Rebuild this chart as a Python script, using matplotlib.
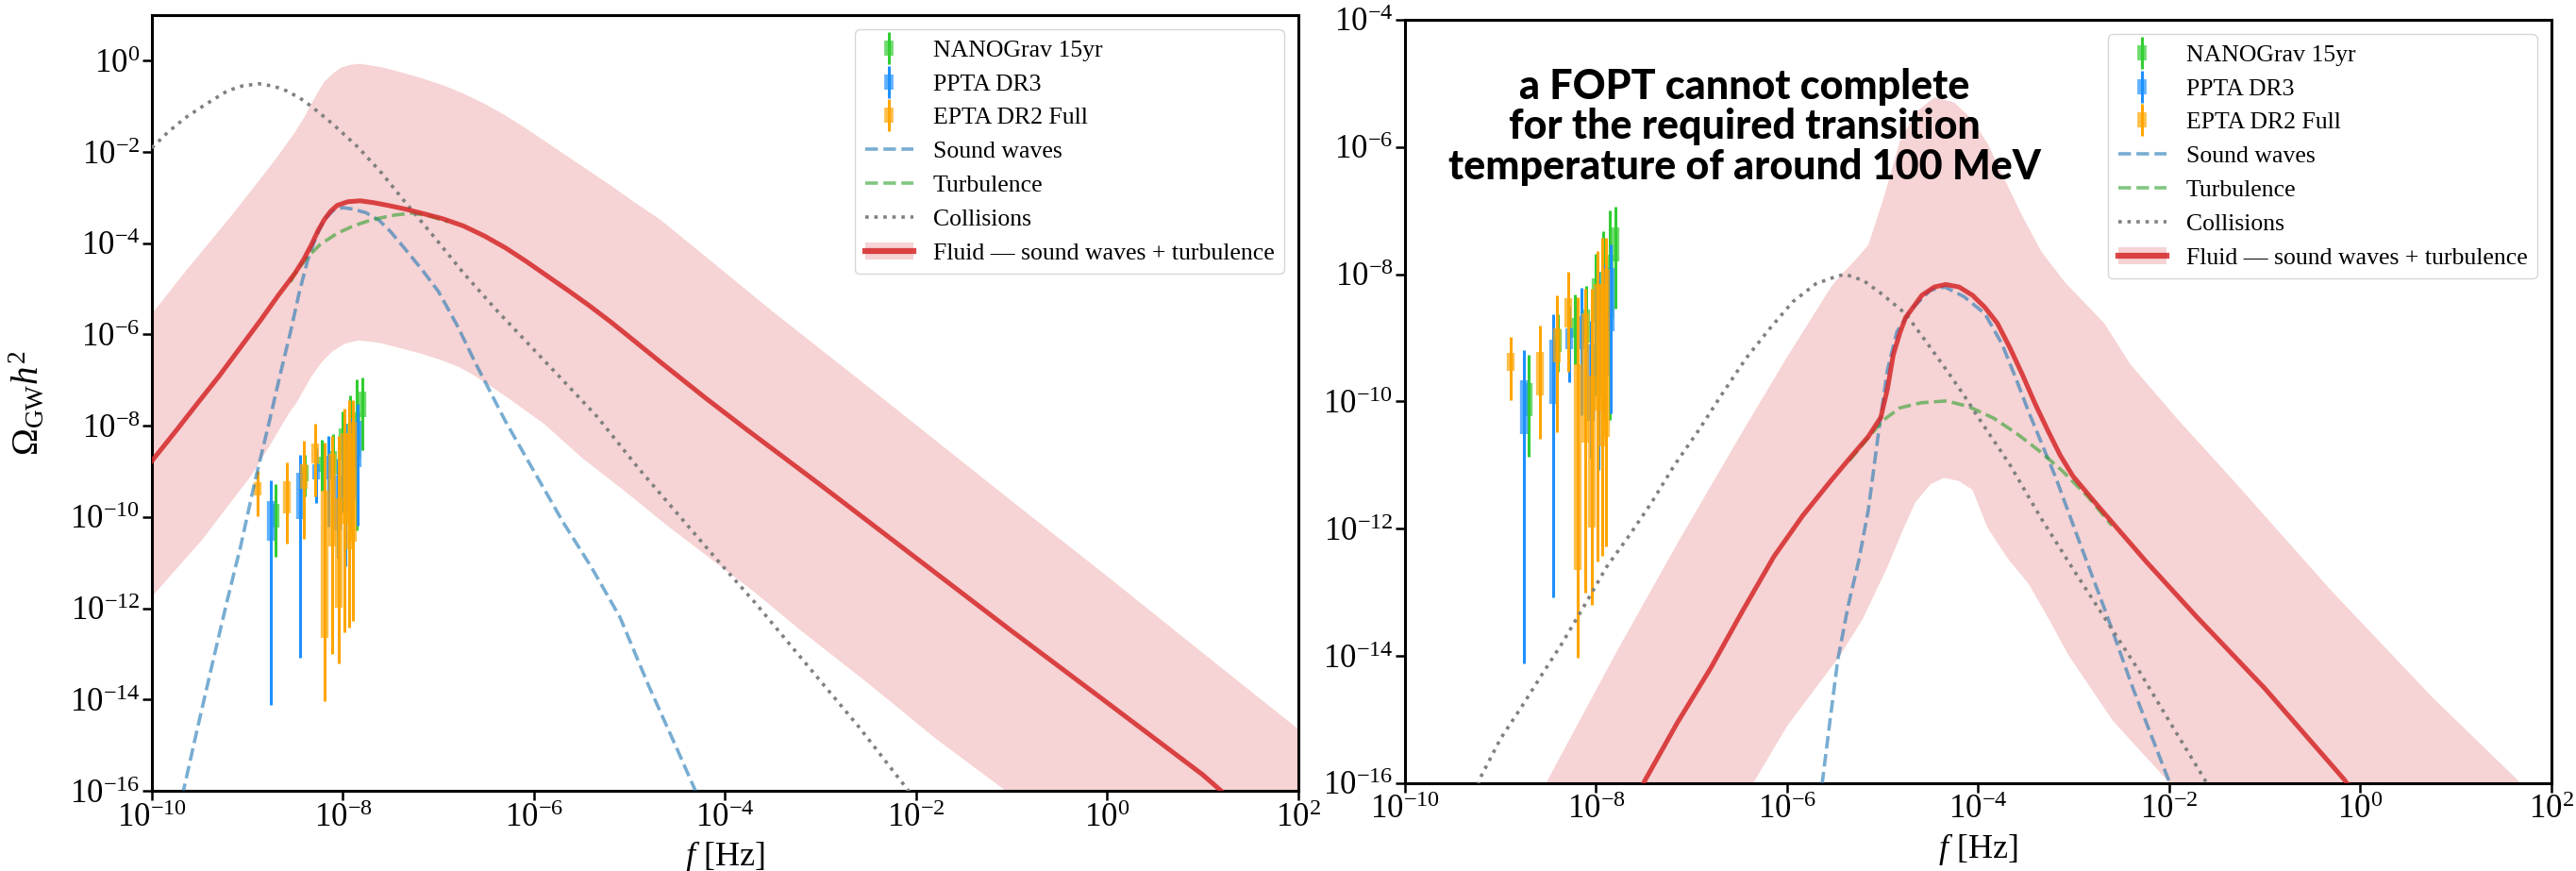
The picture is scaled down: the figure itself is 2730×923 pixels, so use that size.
import numpy as np
import matplotlib.pyplot as plt
from matplotlib.lines import Line2D
from matplotlib.patches import Patch
from matplotlib.ticker import NullLocator, FuncFormatter

plt.rcParams['font.family'] = 'serif'
plt.rcParams['font.serif'] = ['Liberation Serif', 'DejaVu Serif']
plt.rcParams['mathtext.fontset'] = 'custom'
plt.rcParams['mathtext.rm'] = 'Liberation Serif'
plt.rcParams['mathtext.it'] = 'Liberation Serif:italic'
plt.rcParams['mathtext.bf'] = 'Liberation Serif:bold'

# ---- PTA free-spectrum bins: frequency [Hz] and log10(Omega h^2) ranges ----
# lo2/hi2 = outer (thin) range, lo1/hi1 = inner (thick) range
ng_f = [1.98e-9, 3.96e-9, 5.94e-9, 7.92e-9, 9.90e-9, 1.19e-8, 1.39e-8, 1.58e-8]
ng_lo2 = [-10.87, -9.54, -9.42, -9.22, -9.90, -10.29, -10.29, -8.54]
ng_lo1 = [-10.23, -9.22, -9.00, -9.07, -8.75, -8.60, -8.70, -7.80]
ng_hi1 = [-9.71, -8.87, -8.68, -8.56, -8.06, -7.96, -7.70, -7.26]
ng_hi2 = [-9.27, -8.63, -8.31, -8.18, -7.68, -7.33, -6.99, -6.94]

pp_f = [1.76e-9, 3.52e-9, 5.28e-9, 7.04e-9, 8.80e-9, 1.06e-8, 1.23e-8, 1.41e-8]
pp_lo2 = [-14.11, -13.08, -9.69, -10.21, -10.90, -11.07, -10.21, -10.19]
pp_lo1 = [-10.51, -10.04, -9.17, -9.17, -10.30, -9.90, -9.60, -8.90]
pp_hi1 = [-9.66, -9.03, -8.85, -8.66, -9.10, -8.20, -8.00, -7.90]
pp_hi2 = [-9.19, -8.63, -8.50, -8.22, -8.73, -7.96, -7.84, -7.53]

ep_f = [1.28e-9, 2.57e-9, 3.85e-9, 5.13e-9, 6.42e-9, 7.70e-9, 8.98e-9, 1.03e-8, 1.15e-8, 1.28e-8]
ep_lo2 = [-9.98, -10.58, -10.48, -9.54, -14.03, -13.00, -13.20, -12.52, -12.42, -12.27]
ep_lo1 = [-9.52, -9.91, -9.39, -8.83, -12.65, -10.64, -11.98, -10.14, -10.70, -10.55]
ep_hi1 = [-9.23, -9.22, -8.85, -8.38, -9.42, -8.61, -9.59, -8.16, -8.16, -7.91]
ep_hi2 = [-8.98, -8.80, -8.33, -7.96, -8.36, -8.23, -8.23, -7.63, -7.43, -7.43]

# ---- left panel spectra: log10 f, log10 Omega h^2 ----
L_col_f = [-10.0, -9.83, -9.65, -9.47, -9.21, -9.05, -8.88, -8.72, -8.59, -8.45, -8.33, -8.1, -7.84,
           -7.6, -7.36, -7.05, -6.74, -6.4, -6.08, -5.7, -5.34, -4.9, -4.49, -4.1, -3.69, -3.2, -2.6, -2.08, -1.9]
L_col_o = [-1.91, -1.56, -1.25, -1.0, -0.66, -0.55, -0.505, -0.56, -0.66, -0.82, -1.0, -1.4, -1.90,
           -2.45, -3.07, -3.85, -4.65, -5.45, -6.16, -7.0, -7.80, -8.95, -9.95, -10.9, -11.87, -13.1, -14.6, -16.0, -16.5]

L_sw_f = [-9.72, -9.67, -9.52, -9.37, -9.22, -9.07, -8.92, -8.77, -8.66, -8.55, -8.46, -8.37, -8.28, -8.195,
          -8.1, -8.0, -7.9, -7.76, -7.62, -7.5, -7.36, -7.18, -7.0, -6.8, -6.61, -6.3, -6.0, -5.7, -5.4,
          -5.1, -4.8, -4.5, -4.3]
L_sw_o = [-16.5, -16.0, -14.6, -13.24, -11.9, -10.63, -9.2, -7.9, -6.9, -5.95, -5.1, -4.37, -3.85, -3.48,
          -3.28, -3.22, -3.25, -3.33, -3.50, -3.75, -4.10, -4.56, -5.06, -5.82, -6.64, -7.9, -9.0, -10.1, -11.1,
          -12.2, -13.7, -15.1, -16.05]

L_tu_f = [-8.55, -8.50, -8.37, -8.24, -8.06, -7.89, -7.75, -7.62, -7.45, -7.27, -7.1, -6.9]
L_tu_o = [-4.85, -4.65, -4.30, -4.03, -3.78, -3.62, -3.52, -3.45, -3.38, -3.34, -3.40, -3.53]

L_fl_f = [-10.0, -9.74, -9.52, -9.30, -9.08, -8.86, -8.68, -8.50, -8.41, -8.33, -8.26, -8.195, -8.13, -8.06,
          -7.95, -7.82, -7.68, -7.53, -7.35, -7.18, -6.96, -6.74, -6.52, -6.30, -6.08, -5.86, -5.64, -5.42,
          -5.2, -4.98, -4.68, -4.2, -3.77, -3.0, -2.0, -1.0, 0.0, 1.0, 1.3]
L_fl_o = [-8.77, -8.09, -7.5, -6.92, -6.3, -5.68, -5.15, -4.65, -4.35, -4.03, -3.72, -3.48, -3.30, -3.17,
          -3.09, -3.07, -3.11, -3.17, -3.25, -3.34, -3.46, -3.62, -3.84, -4.10, -4.40, -4.72, -5.04, -5.37,
          -5.72, -6.09, -6.60, -7.4, -8.09, -9.3, -10.9, -12.5, -14.07, -15.65, -16.2]

L_up_f = [-10.0, -9.7, -9.39, -9.15, -8.94, -8.72, -8.50, -8.40, -8.33, -8.26, -8.195, -8.1, -8.02, -7.92,
          -7.82, -7.6, -7.40, -7.18, -6.96, -6.74, -6.52, -6.3, -6.08, -5.86, -5.64, -5.42, -5.20, -4.95,
          -4.68, -4.2, -3.5, -2.7, -1.90, -1.0, 0.0, 1.0, 2.0]
L_up_o = [-5.55, -4.75, -3.96, -3.35, -2.79, -2.2, -1.56, -1.22, -0.94, -0.68, -0.46, -0.27, -0.15, -0.09,
          -0.066, -0.14, -0.25, -0.38, -0.53, -0.72, -0.94, -1.2, -1.49, -1.8, -2.11, -2.42, -2.73, -3.1,
          -3.48, -4.3, -5.5, -6.82, -8.15, -9.65, -11.3, -12.98, -14.65]
L_lo_f = [-10.0, -9.75, -9.47, -9.22, -8.97, -8.77, -8.57, -8.50, -8.42, -8.33, -8.22, -8.11, -7.98, -7.84,
          -7.62, -7.40, -7.18, -6.96, -6.78, -6.61, -6.3, -5.90, -5.5, -5.04, -4.6, -4.13, -3.69, -3.2, -2.5,
          -1.8, -1.03, -0.5, 2.0]
L_lo_o = [-11.75, -11.15, -10.49, -9.8, -9.12, -8.45, -7.74, -7.54, -7.25, -6.92, -6.6, -6.37, -6.2, -6.13,
          -6.18, -6.30, -6.42, -6.57, -6.72, -6.92, -7.35, -7.95, -8.7, -9.45, -10.2, -10.95, -11.65, -12.5,
          -13.65, -14.85, -16.05, -17.0, -17.0]

# ---- right panel spectra ----
R_col_f = [-9.3, -9.21, -9.0, -8.78, -8.57, -8.36, -8.12, -7.89, -7.65, -7.42, -7.18, -6.93, -6.68, -6.43,
           -6.18, -5.94, -5.7, -5.48, -5.39, -5.2, -5.0, -4.76, -4.55, -4.33, -4.15, -4.0, -3.67, -3.34,
           -3.0, -2.66, -2.31, -1.97, -1.63, -1.5]
R_col_o = [-16.3, -15.91, -15.3, -14.80, -14.3, -13.81, -13.2, -12.6, -12.1, -11.59, -11.0, -10.46, -9.88,
           -9.32, -8.85, -8.43, -8.15, -8.03, -8.0, -8.1, -8.32, -8.62, -9.05, -9.51, -9.9, -10.25, -10.99,
           -11.84, -12.65, -13.44, -14.25, -15.1, -15.94, -16.3]

R_sw_f = [-5.66, -5.63, -5.55, -5.47, -5.36, -5.25, -5.15, -5.04, -4.95, -4.85, -4.7, -4.5, -4.35, -4.15,
          -3.93, -3.75, -3.60, -3.47, -3.19, -2.94, -2.66, -2.38, -2.01, -1.95]
R_sw_o = [-16.3, -15.96, -15.0, -14.06, -13.2, -12.5, -11.7, -10.45, -9.5, -8.9, -8.55, -8.25, -8.2, -8.35,
          -8.62, -9.1, -9.66, -10.17, -11.19, -12.21, -13.33, -14.51, -15.94, -16.2]

R_tu_f = [-5.35, -5.15, -5.0, -4.82, -4.6, -4.33, -4.1, -3.84, -3.6, -3.34, -3.12, -2.85, -2.6]
R_tu_o = [-10.93, -10.57, -10.3, -10.10, -10.02, -9.99, -10.08, -10.26, -10.5, -10.8, -11.09, -11.5, -11.95]

R_fl_f = [-7.6, -7.49, -7.15, -6.80, -6.47, -6.14, -5.84, -5.545, -5.35, -5.15, -5.02, -4.95, -4.89, -4.82,
          -4.76, -4.59, -4.46, -4.34, -4.2, -4.06, -3.93, -3.80, -3.67, -3.54, -3.40, -3.27, -3.14, -3.01,
          -2.77, -2.5, -2.24, -1.71, -1.0, -0.17, -0.05]
R_fl_o = [-16.35, -15.96, -15.05, -14.19, -13.3, -12.44, -11.8, -11.25, -10.9, -10.55, -10.25, -9.8, -9.27,
          -8.92, -8.68, -8.33, -8.2, -8.16, -8.2, -8.33, -8.52, -8.77, -9.15, -9.57, -10.05, -10.46, -10.85,
          -11.17, -11.60, -12.07, -12.52, -13.39, -14.51, -15.94, -16.2]

R_up_f = [-8.6, -8.51, -7.78, -7.13, -6.47, -6.0, -5.545, -5.45, -5.3, -5.15, -4.99, -4.82, -4.65, -4.46,
          -4.25, -4.06, -3.9, -3.74, -3.55, -3.34, -3.09, -2.68, -2.41, -1.9, -1.36, -0.30, 0.76, 1.64, 1.85]
R_up_o = [-16.3, -15.96, -13.92, -12.18, -10.48, -9.3, -8.21, -8.03, -7.8, -7.54, -6.80, -5.91, -5.45, -5.22,
          -5.3, -5.57, -5.95, -6.46, -7.05, -7.64, -8.13, -8.77, -9.41, -10.3, -11.19, -12.98, -14.66, -15.94, -16.3]
R_lo_f = [-6.5, -6.34, -6.0, -5.7, -5.45, -5.21, -4.95, -4.78, -4.66, -4.5, -4.36, -4.2, -4.06, -3.90, -3.7,
          -3.47, -3.25, -3.05, -2.59, -2.03, -1.9]
R_lo_o = [-16.5, -15.96, -15.1, -14.5, -14.0, -13.42, -12.6, -11.99, -11.59, -11.3, -11.2, -11.25, -11.39,
          -11.99, -12.45, -12.87, -13.45, -14.0, -15.02, -15.94, -16.3]

x_ticks = [1e-10, 1e-8, 1e-6, 1e-4, 1e-2, 1e0, 1e2]
L_yticks = [1e0, 1e-2, 1e-4, 1e-6, 1e-8, 1e-10, 1e-12, 1e-14, 1e-16]
R_yticks = [1e-4, 1e-6, 1e-8, 1e-10, 1e-12, 1e-14, 1e-16]

RED = '#d62728'


def pow10(v, pos):
    "tick label as 10^n in the serif font"
    return r'$\mathrm{10^{%d}}$' % int(round(np.log10(v)))


def pta_bins(ax, f, lo2, lo1, hi1, hi2, color):
    "thin line for the outer range, thick translucent bar for the inner one"
    ax.vlines(f, 10**np.array(lo2), 10**np.array(hi2), color=color, lw=2.2, zorder=4)
    ax.vlines(f, 10**np.array(lo1), 10**np.array(hi1), color=color, lw=6, alpha=0.7, zorder=4)


def draw_panel(ax, col, sw, tu, fl, up, lo, ylim, yticks):
    uf, uo = up
    lf, lo_ = lo
    ax.fill(10**np.r_[uf, lf[::-1]], 10**np.r_[uo, lo_[::-1]], color=RED, alpha=0.2, lw=0, zorder=1)
    pta_bins(ax, ng_f, ng_lo2, ng_lo1, ng_hi1, ng_hi2, '#32cd32')
    pta_bins(ax, pp_f, pp_lo2, pp_lo1, pp_hi1, pp_hi2, '#1e90ff')
    pta_bins(ax, ep_f, ep_lo2, ep_lo1, ep_hi1, ep_hi2, '#ffa500')
    ax.plot(10**np.array(sw[0]), 10**np.array(sw[1]), color='#1f77b4', alpha=0.6, ls='--', lw=2.6, zorder=5)
    ax.plot(10**np.array(tu[0]), 10**np.array(tu[1]), color='#2ca02c', alpha=0.6, ls='--', lw=2.6, zorder=5)
    ax.plot(10**np.array(col[0]), 10**np.array(col[1]), color='gray', ls=':', lw=2.6, zorder=5)
    ax.plot(10**np.array(fl[0]), 10**np.array(fl[1]), color=RED, alpha=0.85, lw=3.6, zorder=6)

    ax.set_xscale('log')
    ax.set_yscale('log')
    ax.set_xlim(1e-10, 1e2)
    ax.set_ylim(*ylim)
    ax.set_xticks(x_ticks)
    ax.set_yticks(yticks)
    ax.xaxis.set_minor_locator(NullLocator())
    ax.yaxis.set_minor_locator(NullLocator())
    ax.xaxis.set_major_formatter(FuncFormatter(pow10))
    ax.yaxis.set_major_formatter(FuncFormatter(pow10))
    ax.tick_params(which='major', direction='out', length=7, width=1.8, labelsize=25, pad=2)
    for s in ax.spines.values():
        s.set_linewidth(2.2)
    ax.set_xlabel(r'$f$ [Hz]', fontsize=26, labelpad=4)

    handles = [
        (Line2D([], [], color='#32cd32', marker='|', ms=25, mew=2.2, ls='None'),
         Line2D([], [], color='#32cd32', marker='|', ms=12, mew=7, alpha=0.7, ls='None')),
        (Line2D([], [], color='#1e90ff', marker='|', ms=25, mew=2.2, ls='None'),
         Line2D([], [], color='#1e90ff', marker='|', ms=12, mew=7, alpha=0.7, ls='None')),
        (Line2D([], [], color='#ffa500', marker='|', ms=25, mew=2.2, ls='None'),
         Line2D([], [], color='#ffa500', marker='|', ms=12, mew=7, alpha=0.7, ls='None')),
        Line2D([], [], color='#1f77b4', alpha=0.6, ls='--', lw=2.6),
        Line2D([], [], color='#2ca02c', alpha=0.6, ls='--', lw=2.6),
        Line2D([], [], color='gray', ls=':', lw=2.6),
        (Patch(facecolor=RED, alpha=0.2, lw=0), Line2D([], [], color=RED, alpha=0.85, lw=4.5)),
    ]
    labels = ['NANOGrav 15yr', 'PPTA DR3', 'EPTA DR2 Full', 'Sound waves', 'Turbulence',
              'Collisions', 'Fluid \u2014 sound waves + turbulence']
    ax.legend(handles, labels, loc='upper right', fontsize=18.5, borderaxespad=0.6)


fig = plt.figure(figsize=(27.3, 9.23), dpi=100)
ax1 = fig.add_axes([0.05897, 0.09209, 0.44505, 0.89057])
ax2 = fig.add_axes([0.54542, 0.10076, 0.44505, 0.87649])

draw_panel(ax1, (L_col_f, L_col_o), (L_sw_f, L_sw_o), (L_tu_f, L_tu_o), (L_fl_f, L_fl_o),
           (L_up_f, L_up_o), (L_lo_f, L_lo_o), (1e-16, 1e1), L_yticks)
draw_panel(ax2, (R_col_f, R_col_o), (R_sw_f, R_sw_o), (R_tu_f, R_tu_o), (R_fl_f, R_fl_o),
           (R_up_f, R_up_o), (R_lo_f, R_lo_o), (1e-16, 1e-4), R_yticks)

ax1.set_ylabel(r'$\Omega_{\rm GW}h^2$', fontsize=28)
ax1.yaxis.set_label_coords(-0.092, 0.5)

ax2.text(0.296, 0.86, 'a FOPT cannot complete\nfor the required transition\ntemperature of around 100 MeV',
         transform=ax2.transAxes, ha='center', va='center', fontsize=31, family='Lato',
         fontweight='black', linespacing=1.08, zorder=8)

fig.savefig('out.png', dpi=100)
